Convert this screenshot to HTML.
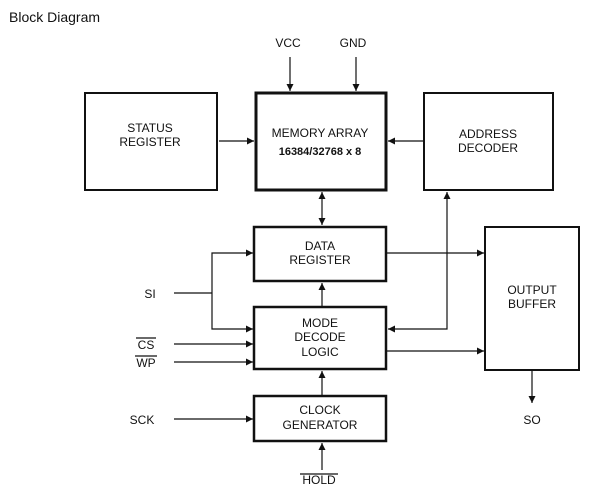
<!DOCTYPE html>
<html><head><style>
body{margin:0;background:#fff;}
svg text{font-family:"Liberation Sans",sans-serif;font-size:12px;fill:#111;}
</style></head><body>
<svg width="607" height="492" viewBox="0 0 607 492" xmlns="http://www.w3.org/2000/svg">
<defs><marker id="a" viewBox="0 0 10 10" refX="10" refY="5" markerWidth="7" markerHeight="7" orient="auto-start-reverse" markerUnits="userSpaceOnUse"><path d="M0,0L10,5L0,10z" fill="#111"/></marker></defs>
<text x="9" y="22" style="font-size:14px">Block Diagram</text>
<g fill="none" stroke="#111" stroke-width="2">
<rect x="85" y="93" width="132" height="97"/>
<rect x="256" y="93" width="130" height="97" stroke-width="3"/>
<rect x="424" y="93" width="129" height="97"/>
<rect x="254" y="227" width="132" height="54" stroke-width="2.5"/>
<rect x="254" y="307" width="132" height="62" stroke-width="2.5"/>
<rect x="254" y="396" width="132" height="45" stroke-width="2.5"/>
<rect x="485" y="227" width="94" height="143"/>
</g>
<g stroke="#111" stroke-width="1.2" fill="none">
<line x1="290" y1="57" x2="290" y2="91" marker-end="url(#a)"/>
<line x1="356" y1="57" x2="356" y2="91" marker-end="url(#a)"/>
<line x1="219" y1="141" x2="254" y2="141" marker-end="url(#a)"/>
<line x1="423" y1="141" x2="388" y2="141" marker-end="url(#a)"/>
<line x1="322" y1="192" x2="322" y2="225" marker-start="url(#a)" marker-end="url(#a)"/>
<line x1="322" y1="306" x2="322" y2="283" marker-end="url(#a)"/>
<line x1="322" y1="395" x2="322" y2="371" marker-end="url(#a)"/>
<line x1="322" y1="470" x2="322" y2="443" marker-end="url(#a)"/>
<line x1="174" y1="293" x2="212" y2="293"/>
<polyline points="253,253 212,253 212,329 253,329" marker-start="url(#a)" marker-end="url(#a)"/>
<line x1="174" y1="344" x2="253" y2="344" marker-end="url(#a)"/>
<line x1="174" y1="362" x2="253" y2="362" marker-end="url(#a)"/>
<line x1="174" y1="419" x2="253" y2="419" marker-end="url(#a)"/>
<polyline points="388,329 447,329 447,192" marker-start="url(#a)" marker-end="url(#a)"/>
<line x1="387" y1="253" x2="484" y2="253" marker-end="url(#a)"/>
<line x1="387" y1="351" x2="484" y2="351" marker-end="url(#a)"/>
<line x1="532" y1="371" x2="532" y2="403" marker-end="url(#a)"/>
<line x1="136" y1="338" x2="156" y2="338"/>
<line x1="135" y1="356" x2="157" y2="356"/>
<line x1="300" y1="474" x2="338" y2="474"/>
</g>
<g text-anchor="middle">
<text x="288" y="47">VCC</text><text x="353" y="47">GND</text>
<text x="150" y="132">STATUS</text><text x="150" y="146">REGISTER</text>
<text x="320" y="137">MEMORY ARRAY</text><text x="320" y="155" style="font-size:11px;font-weight:bold">16384/32768 x 8</text>
<text x="488" y="138">ADDRESS</text><text x="488" y="152">DECODER</text>
<text x="320" y="250">DATA</text><text x="320" y="264">REGISTER</text>
<text x="320" y="327">MODE</text><text x="320" y="341">DECODE</text><text x="320" y="356">LOGIC</text>
<text x="320" y="414">CLOCK</text><text x="320" y="429">GENERATOR</text>
<text x="532" y="294">OUTPUT</text><text x="532" y="308">BUFFER</text>
<text x="150" y="298">SI</text><text x="146" y="349">CS</text><text x="146" y="367">WP</text>
<text x="142" y="424">SCK</text><text x="319" y="484">HOLD</text><text x="532" y="424">SO</text>
</g>
</svg>
</body></html>
